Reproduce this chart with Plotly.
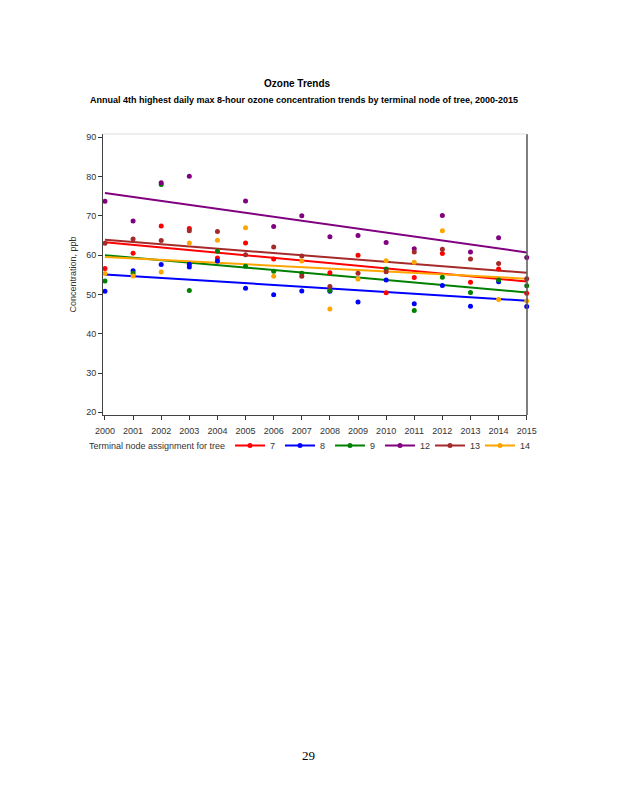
import plotly.graph_objects as go

# ---- data ----
nodes = ["7", "8", "9", "12", "13", "14"]
colors = ["#ff0000", "#0000ff", "#008000", "#800080", "#a52a2a", "#ffa500"]

red_years = [2000, 2001, 2002, 2003, 2004, 2005, 2006, 2008, 2009, 2010, 2011, 2012, 2013, 2014, 2015]
red_vals = [56.6, 60.5, 67.4, 66.8, 59.3, 63.1, 59.0, 55.5, 60.0, 50.4, 54.3, 60.4, 53.1, 56.5, 50.3]

blue_years = [2000, 2001, 2002, 2003, 2003, 2004, 2005, 2006, 2007, 2008, 2009, 2010, 2011, 2012, 2013, 2014, 2015]
blue_vals = [50.8, 56.0, 57.6, 57.7, 57.0, 58.5, 51.6, 49.9, 50.9, 50.8, 48.1, 53.7, 47.6, 52.3, 47.0, 53.2, 46.9]

green_years = [2000, 2001, 2002, 2003, 2004, 2005, 2006, 2007, 2008, 2010, 2011, 2012, 2013, 2014, 2015]
green_vals = [53.4, 55.4, 78.0, 51.0, 61.0, 57.2, 55.9, 55.4, 51.0, 56.5, 45.9, 54.4, 50.5, 53.7, 52.2]

purple_years = [2000, 2001, 2002, 2003, 2005, 2006, 2007, 2008, 2009, 2010, 2011, 2012, 2013, 2014, 2015]
purple_vals = [73.7, 68.7, 78.4, 80.1, 73.8, 67.3, 70.0, 64.7, 65.0, 63.2, 61.6, 70.1, 60.8, 64.4, 59.4]

brown_years = [2000, 2001, 2002, 2003, 2004, 2005, 2006, 2007, 2007, 2008, 2009, 2010, 2011, 2012, 2013, 2014, 2015]
brown_vals = [63.0, 64.1, 63.7, 66.2, 66.0, 60.1, 62.1, 59.8, 54.6, 52.0, 55.4, 55.8, 60.8, 61.5, 59.0, 57.9, 54.0]

orange_years = [2000, 2001, 2002, 2003, 2004, 2005, 2006, 2007, 2008, 2009, 2010, 2011, 2012, 2014, 2015]
orange_vals = [55.3, 54.7, 55.7, 63.1, 63.8, 67.0, 54.6, 58.5, 46.3, 53.9, 58.6, 58.2, 66.2, 48.7, 48.3]

# fitted trend lines (value at first and last year)
fit_years = [2000, 2015]
fit_start = [63.3, 55.1, 60.0, 75.8, 63.9, 59.5]
fit_end = [53.3, 48.4, 50.5, 60.7, 55.5, 54.0]

x_ticks = list(range(2000, 2016))
y_ticks = [20, 30, 40, 50, 60, 70, 80, 90]

series_years = [red_years, blue_years, green_years, purple_years, brown_years, orange_years]
series_vals = [red_vals, blue_vals, green_vals, purple_vals, brown_vals, orange_vals]

# plot area in page pixels (the page has an 8px body margin)
OFF = 8
PL, PR, PT, PB = 103 - OFF, 527 - OFF, 134 - OFF, 415 - OFF
PW, PH = PR - PL, PB - PT


def px(xp):
    return (xp - OFF - PL) / PW


def py(yp):
    return (PB - (yp - OFF)) / PH


fig = go.Figure()

for i in range(len(nodes)):
    fig.add_trace(go.Scatter(
        x=fit_years, y=[fit_start[i], fit_end[i]], mode="lines",
        line=dict(color=colors[i], width=2), showlegend=False, hoverinfo="skip"))

for i in range(len(nodes)):
    fig.add_trace(go.Scatter(
        x=series_years[i], y=series_vals[i], mode="markers",
        marker=dict(color=colors[i], size=5), showlegend=False, cliponaxis=False))

for i in range(len(nodes)):
    fig.add_trace(go.Scatter(
        x=[None], y=[None], mode="lines+markers", name=nodes[i],
        line=dict(color=colors[i], width=2), marker=dict(color=colors[i], size=5)))

fig.update_layout(
    width=618, height=800,
    margin=dict(l=PL, r=618 - PR, t=PT, b=800 - PB),
    paper_bgcolor="white", plot_bgcolor="white",
    font=dict(family="Liberation Sans, Arial, sans-serif", size=9, color="#333333"),
    showlegend=True,
    legend=dict(
        orientation="h", x=px(230), xanchor="left", y=py(431), yanchor="top",
        font=dict(size=9, color="#333333"),
        entrywidth=5, entrywidthmode="pixels",
        itemwidth=30, bgcolor="rgba(0,0,0,0)",
    ),
)

fig.update_xaxes(
    range=[1999.93, 2015.01], tickmode="array", tickvals=x_ticks,
    ticktext=[str(t) for t in x_ticks],
    ticks="outside", ticklen=4, tickcolor="#333333", ticklabelstandoff=3,
    showline=True, linecolor="#444444", linewidth=1, mirror=False,
    showgrid=False, zeroline=False, tickfont=dict(size=9, color="#333333"),
)
fig.update_yaxes(
    range=[19.31, 90.84], tickmode="array", tickvals=y_ticks,
    ticks="outside", ticklen=4, tickcolor="#333333",
    showline=True, linecolor="#444444", linewidth=1,
    showgrid=False, zeroline=False, tickfont=dict(size=9, color="#333333"),
    title=dict(text="Concentration, ppb", font=dict(size=9, color="#333333"), standoff=8),
)

fig.add_shape(type="line", xref="paper", yref="paper", x0=1, x1=1, y0=0, y1=1,
              line=dict(color="#555555", width=1.5))
fig.add_shape(type="line", xref="paper", yref="paper", x0=0, x1=1, y0=1, y1=1,
              line=dict(color="#dddddd", width=1))

# legend heading
fig.add_annotation(text="Terminal node assignment for tree", xref="paper", yref="paper",
                   x=px(87), y=py(446), xanchor="left", yanchor="middle", showarrow=False,
                   font=dict(size=9, color="#333333"))

fig.add_annotation(text="<b>Ozone Trends</b>", xref="paper", yref="paper",
                   x=px(297), y=py(84), xanchor="center", yanchor="middle",
                   showarrow=False, font=dict(family="Liberation Sans, Arial, sans-serif", size=10, color="black"))
fig.add_annotation(text="<b>Annual 4th highest daily max 8-hour ozone concentration trends by terminal node of tree, 2000-2015</b>",
                   xref="paper", yref="paper",
                   x=px(88), y=py(100), xanchor="left", yanchor="middle",
                   showarrow=False, font=dict(family="Liberation Sans, Arial, sans-serif", size=9, color="black"))

fig.add_annotation(text="29", xref="paper", yref="paper",
                   x=px(308), y=py(756), xanchor="center", yanchor="middle",
                   showarrow=False, font=dict(family="Liberation Serif, Times New Roman, serif", size=13, color="black"))

fig.write_html("out.html")
